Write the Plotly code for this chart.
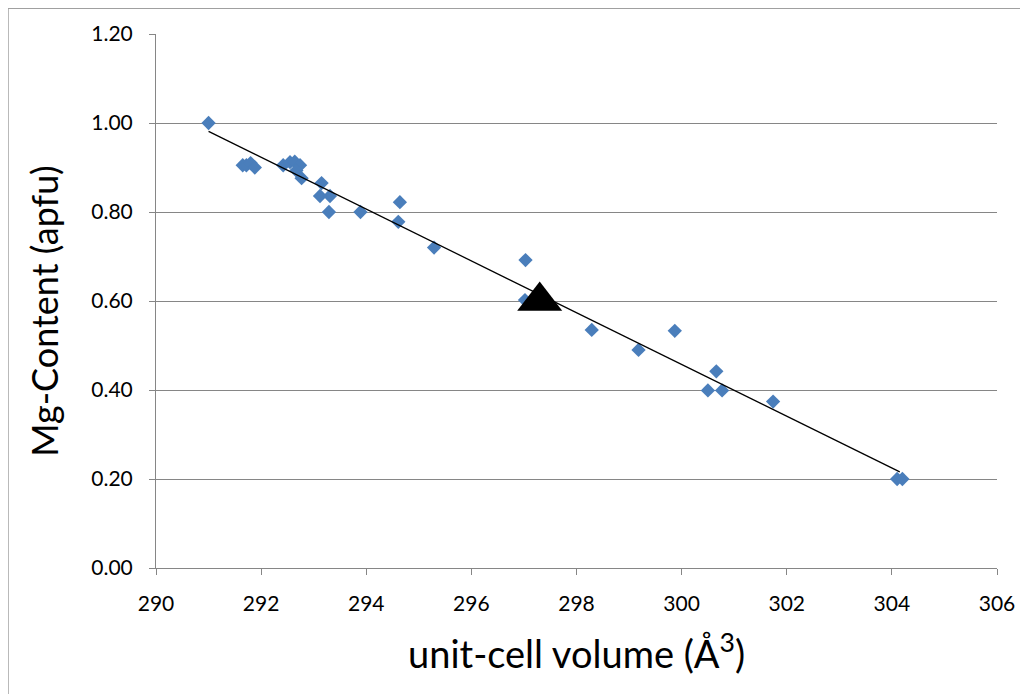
import plotly.graph_objects as go

# unit-cell volume (A^3) and Mg content (apfu)
volume = [291.0, 291.65, 291.72, 291.8, 291.88,
          292.42, 292.55, 292.64, 292.74, 292.67, 292.77,
          293.15, 293.12, 293.31, 293.29, 293.89, 294.64, 294.61,
          295.29, 297.03, 297.02, 298.29, 299.18, 299.87,
          300.66, 300.50, 300.77, 301.74, 304.1, 304.2]
mg_content = [1.00, 0.905, 0.905, 0.91, 0.90,
              0.905, 0.912, 0.913, 0.905, 0.893, 0.876,
              0.865, 0.836, 0.836, 0.80, 0.80, 0.822, 0.778,
              0.72, 0.692, 0.602, 0.535, 0.49, 0.533,
              0.442, 0.399, 0.399, 0.374, 0.20, 0.20]

# highlighted sample
sample_x = [297.3]
sample_y = [0.60]

# linear trend line end points
trend_x = [291.0, 304.15]
trend_y = [0.981, 0.216]

x_ticks = [290, 292, 294, 296, 298, 300, 302, 304, 306]
y_ticks = [0.0, 0.2, 0.4, 0.6, 0.8, 1.0, 1.2]

font = 'Lato'
grey = '#868686'

fig = go.Figure()
fig.add_trace(go.Scatter(
    x=volume, y=mg_content, mode='markers',
    marker=dict(symbol='diamond', size=11, color='#4A7EBB'),
))
fig.add_trace(go.Scatter(
    x=trend_x, y=trend_y, mode='lines',
    line=dict(color='black', width=1.3),
))
fig.add_trace(go.Scatter(
    x=sample_x, y=sample_y, mode='markers',
    marker=dict(symbol='triangle-up', size=39, color='black'),
))

# the page body adds an 8px offset, margins account for it
fig.update_layout(
    width=1028, height=694,
    showlegend=False,
    paper_bgcolor='white', plot_bgcolor='white',
    margin=dict(l=148, r=39, t=23, b=134),
    font=dict(family=font, color='black'),
    xaxis=dict(
        range=[290, 306], tickvals=x_ticks, ticktext=[str(v) for v in x_ticks],
        showgrid=False, zeroline=False, showline=True, linecolor=grey, linewidth=1,
        ticks='outside', ticklen=6, tickcolor=grey, ticklabelstandoff=11,
        tickfont=dict(size=21, family=font),
    ),
    yaxis=dict(
        range=[0, 1.2], tickvals=y_ticks, ticktext=['%.2f' % v for v in y_ticks],
        showgrid=True, gridcolor=grey, gridwidth=1, zeroline=False,
        showline=True, linecolor=grey, linewidth=1,
        ticks='outside', ticklen=6, tickcolor=grey, ticklabelstandoff=12,
        tickfont=dict(size=21, family=font),
    ),
    annotations=[
        dict(text='unit-cell volume (Å<sup>3</sup>)', xref='paper', yref='paper',
             x=0.5, y=-0.155, xanchor='center', yanchor='middle', showarrow=False,
             font=dict(size=38, family=font)),
        dict(text='Mg-Content (apfu)', xref='paper', yref='paper', textangle=-90,
             x=-0.133, y=0.48, xanchor='center', yanchor='middle', showarrow=False,
             font=dict(size=36, family=font)),
    ],
    shapes=[
        dict(type='rect', xref='paper', yref='paper',
             x0=-0.176, x1=1.2, y0=-0.4, y1=1.048,
             line=dict(color='#A0A0A0', width=1.5), layer='below'),
    ],
)

fig.write_html('out.html')
